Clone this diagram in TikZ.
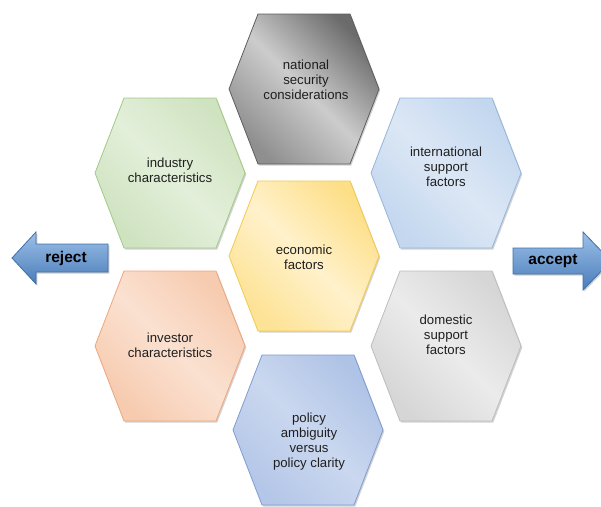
\documentclass[tikz,border=0pt]{standalone}
\usepackage{fontspec}
\setmainfont{Liberation Sans}
\usetikzlibrary{shadows}

\definecolor{grayedge}{HTML}{5E5E5E}
\definecolor{greenedge}{HTML}{A3C987}
\definecolor{greenlight}{HTML}{E3EFDA}
\definecolor{greendark}{HTML}{CFE3C0}
\definecolor{intledge}{HTML}{95B5DC}
\definecolor{intllight}{HTML}{DCE7F5}
\definecolor{intldark}{HTML}{C3D7EF}
\definecolor{econedge}{HTML}{F3C94E}
\definecolor{econlight}{HTML}{FFF1CB}
\definecolor{econdark}{HTML}{FDDF88}
\definecolor{invedge}{HTML}{EDA67C}
\definecolor{invlight}{HTML}{FBE1D1}
\definecolor{invdark}{HTML}{F6CBAF}
\definecolor{domedge}{HTML}{BDBDBD}
\definecolor{domlight}{HTML}{EBEBEB}
\definecolor{domdark}{HTML}{D6D6D6}
\definecolor{policyedge}{HTML}{7F9CD2}
\definecolor{policylight}{HTML}{CAD7EF}
\definecolor{policydark}{HTML}{AFC3E6}
\definecolor{arrowedge}{HTML}{3D70A8}
\definecolor{arrowlight}{HTML}{9DC0E8}
\definecolor{arrowdark}{HTML}{4A7DBA}

% one hexagon, centred at (#2,#3)
\newcommand{\hexcell}[3]{%
  \path[#1, shading angle=-45] (#2,#3) ++(-75,0) -- ++(29,-75) -- ++(92,0) -- ++(29,75)
    -- ++(-29,75) -- ++(-92,0) -- cycle;}

\tikzset{
  cell/.style={line width=0.8pt,
    drop shadow={shadow xshift=1.3pt, shadow yshift=-1.5pt, opacity=0.35}},
  nationalcell/.style={cell, draw=grayedge, left color=black!58,
    right color=black!44, middle color=black!20},
  industrycell/.style={cell, draw=greenedge, left color=greendark,
    right color=greendark, middle color=greenlight},
  intlcell/.style={cell, draw=intledge, left color=intldark,
    right color=intldark, middle color=intllight},
  econcell/.style={cell, draw=econedge, left color=econdark,
    right color=econdark!80!econlight, middle color=econlight},
  investorcell/.style={cell, draw=invedge, left color=invdark,
    right color=invdark, middle color=invlight},
  domesticcell/.style={cell, draw=domedge, left color=domdark,
    right color=domdark, middle color=domlight},
  policycell/.style={cell, draw=policyedge, left color=policydark,
    right color=policydark!80!policylight, middle color=policylight},
  hextext/.style={align=center, font=\fontsize{13.2}{15}\selectfont, text=black!88},
  choice/.style={draw=arrowedge, line width=0.8pt, top color=arrowlight,
    bottom color=arrowdark, line join=miter,
    drop shadow={shadow xshift=1.3pt, shadow yshift=-1.5pt, opacity=0.4}},
  choicetext/.style={font=\fontsize{15.5}{18}\selectfont\bfseries, text=black}
}

\begin{document}
\begin{tikzpicture}[x=1pt, y=-1pt]
  \useasboundingbox (0,0) rectangle (601,506);
  \clip (0,0) rectangle (601,506);

  % hexagons
  \hexcell{nationalcell}{304}{89}
  \hexcell{industrycell}{170}{173}
  \hexcell{intlcell}{446}{173}
  \hexcell{econcell}{304}{256}
  \hexcell{investorcell}{170}{346}
  \hexcell{domesticcell}{446}{346}
  \hexcell{policycell}{308}{430}

  \node (national) at (306, 80) [hextext] {national\\security\\considerations};
  \node (industry) at (170, 170) [hextext] {industry\\characteristics};
  \node (international) at (446, 167) [hextext] {international\\support\\factors};
  \node (economic) at (304, 257) [hextext] {economic\\factors};
  \node (investor) at (170, 345) [hextext] {investor\\characteristics};
  \node (domestic) at (446, 335) [hextext] {domestic\\support\\factors};
  \node (policy) at (309, 442) [hextext] {policy\\ambiguity\\versus\\policy clarity};

  % arrows
  \draw[choice] (108,244) -- (36,244) -- (36,232) -- (12,258) -- (36,284)
    -- (36,272) -- (108,272) -- cycle;
  \draw[choice] (513,248) -- (583,248) -- (583,232) -- (611,261) -- (583,290)
    -- (583,274) -- (513,274) -- cycle;

  \node (reject) at (66, 258) [choicetext] {reject};
  \node (accept) at (553, 261) [choicetext] {accept};
\end{tikzpicture}
\end{document}
